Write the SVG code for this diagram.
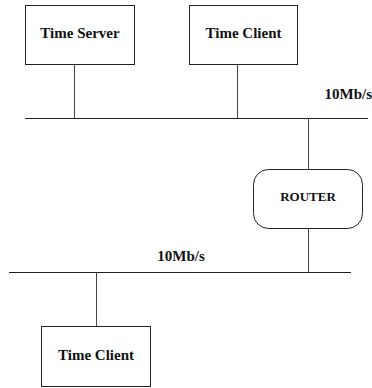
<svg xmlns="http://www.w3.org/2000/svg" width="372" height="388" viewBox="0 0 372 388">
<style>
.box{fill:#fff;stroke:#222;stroke-width:1}
.ln{stroke:#444;stroke-width:1;fill:none}
.bus{stroke:#222;stroke-width:1.2;fill:none}
text{font-family:"Liberation Serif","Times New Roman",serif;font-weight:bold;font-size:15px;fill:#111}
.sm{font-size:13px}
</style>
<rect width="372" height="388" fill="#fff"/>
<g id="connectors">
<line class="bus" x1="25" y1="118.5" x2="368" y2="118.5"/>
<line class="bus" x1="9" y1="272.5" x2="351" y2="272.5"/>
<line class="ln" x1="74.5" y1="64" x2="74.5" y2="118"/>
<line class="ln" x1="237.5" y1="64" x2="237.5" y2="118"/>
<line class="ln" x1="308.5" y1="118" x2="308.5" y2="169"/>
<line class="ln" x1="308.5" y1="229" x2="308.5" y2="272"/>
<line class="ln" x1="96.5" y1="272" x2="96.5" y2="326"/>
</g>
<g id="label-top-speed"><text x="372" y="99" text-anchor="end">10Mb/s</text></g>
<g id="label-bottom-speed"><text x="181" y="261" text-anchor="middle">10Mb/s</text></g>
<g id="time-server">
<rect class="box" x="25.5" y="5.5" width="109" height="59"/>
<text x="80" y="38" text-anchor="middle">Time Server</text>
</g>
<g id="time-client-top">
<rect class="box" x="189.5" y="5.5" width="108" height="59"/>
<text x="243.5" y="38" text-anchor="middle">Time Client</text>
</g>
<g id="router">
<rect class="box" x="253.5" y="169.5" width="109" height="59" rx="15" ry="15"/>
<text x="308" y="201" text-anchor="middle" class="sm">ROUTER</text>
</g>
<g id="time-client-bottom">
<rect class="box" x="41.5" y="326.5" width="109" height="60"/>
<text x="96" y="360" text-anchor="middle">Time Client</text>
</g>
</svg>
